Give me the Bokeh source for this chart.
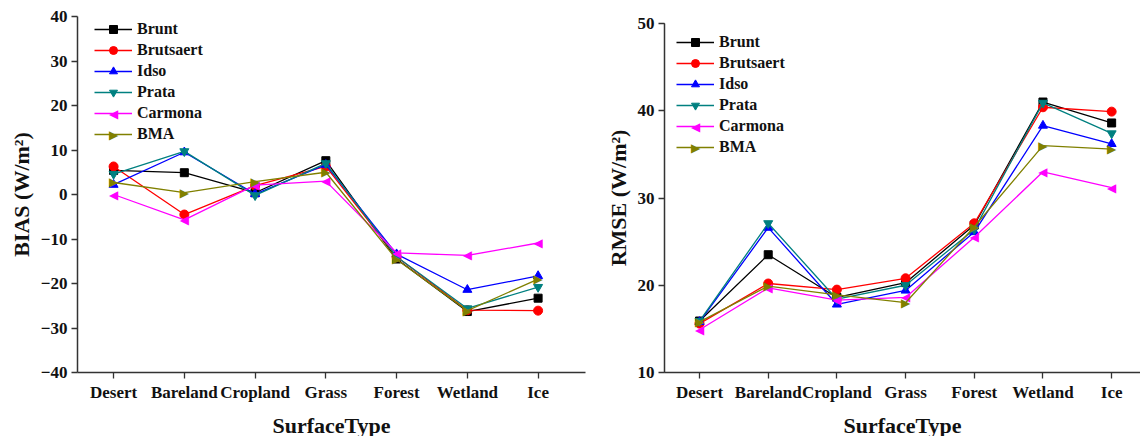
from bokeh.plotting import figure
from bokeh.layouts import row
from bokeh.models import (Range1d, FixedTicker, SingleIntervalTicker, Legend, LegendItem,
                          ColumnDataSource, Label)
from bokeh.core.properties import value
from bokeh.embed import file_html
from bokeh.resources import INLINE

categories = ["Desert", "Bareland", "Cropland", "Grass", "Forest", "Wetland", "Ice"]
series_names = ["Brunt", "Brutsaert", "Idso", "Prata", "Carmona", "BMA"]

bias_brunt = [5.4, 4.9, 0.4, 7.6, -14.5, -26.3, -23.3]
bias_brutsaert = [6.3, -4.5, 2.0, 6.3, -14.0, -26.0, -26.1]
bias_idso = [2.2, 9.5, 0.1, 6.7, -13.4, -21.4, -18.3]
bias_prata = [4.6, 9.7, -0.2, 7.0, -14.0, -25.6, -20.8]
bias_carmona = [0.0, -5.7, 2.1, 3.0, -13.1, -13.7, -10.9]
bias_bma = [2.7, 0.4, 2.9, 5.0, -14.6, -26.1, -19.0]

rmse_brunt = [15.9, 23.5, 18.6, 20.3, 26.9, 41.0, 38.6]
rmse_brutsaert = [15.6, 20.2, 19.5, 20.8, 27.1, 40.4, 39.9]
rmse_idso = [15.8, 26.6, 17.8, 19.4, 26.1, 38.3, 36.2]
rmse_prata = [15.9, 27.1, 18.4, 20.0, 26.4, 40.9, 37.4]
rmse_carmona = [14.9, 19.7, 18.3, 18.6, 25.5, 33.0, 31.2]
rmse_bma = [15.8, 19.9, 18.9, 18.0, 26.7, 36.0, 35.6]

bias_ticks = [-40, -30, -20, -10, 0, 10, 20, 30, 40]
rmse_ticks = [10, 20, 30, 40, 50]

colors = ["#000000", "#FF0000", "#0000FF", "#008080", "#FF00FF", "#808000"]
# None -> drawn as a text symbol (left / right pointing triangles)
markers = ["square", "circle", "triangle", "inverted_triangle", None, None]
symbols = [None, None, None, None, "◀", "▶"]
sizes = [8, 9, 9, 9, 9, 9]

FONT = "Liberation Serif"
SYM_FONT = "DejaVu Sans"
xs = list(range(len(categories)))

ROW_H = 20
ROW_GAP = 1
GLYPH_W = 38

_probe = figure()
CAN_UNALIGN = "frame_align" in _probe.properties()


def make_plot(data, ylabel, yr, minor, frame_w, frame_h, x_end, border_left, border_right,
              border_top, legend_xy):
    p = figure(frame_width=frame_w, frame_height=frame_h, output_backend="svg",
               toolbar_location=None,
               x_range=Range1d(-0.51, x_end), y_range=Range1d(yr[0], yr[1]),
               min_border_left=border_left, min_border_right=border_right,
               min_border_top=border_top, min_border_bottom=60)
    if CAN_UNALIGN:
        p.frame_align = False
    p.outline_line_color = None
    p.grid.visible = False
    p.background_fill_color = "white"
    p.border_fill_color = "white"

    n = len(series_names)
    leg_h = n * ROW_H + (n - 1) * ROW_GAP
    items = []
    for i, (vals, name, c, m, sym, s) in enumerate(
            zip(data, series_names, colors, markers, symbols, sizes)):
        src = ColumnDataSource(dict(x=xs, y=vals, t=[sym] * len(xs)))
        r1 = p.line("x", "y", source=src, line_color=c, line_width=1.3)
        if m is not None:
            r2 = p.scatter("x", "y", source=src, marker=m, size=s,
                           fill_color=c, line_color=c)
            items.append(LegendItem(label=name, renderers=[r1, r2]))
        else:
            p.text("x", "y", text="t", source=src, text_color=c,
                   text_font=value(SYM_FONT), text_font_size="12px",
                   text_align="center", text_baseline="middle")
            items.append(LegendItem(label=name, renderers=[r1]))
            row_center = legend_xy[1] + leg_h - ROW_H / 2 - i * (ROW_H + ROW_GAP)
            p.add_layout(Label(x=legend_xy[0] + GLYPH_W / 2, y=row_center,
                               x_units="screen", y_units="screen", text=sym,
                               text_color=c, text_font=SYM_FONT, text_font_size="12px",
                               text_align="center", text_baseline="middle"))

    leg = Legend(items=items, location=legend_xy, glyph_width=GLYPH_W, glyph_height=ROW_H,
                 label_height=ROW_H, spacing=ROW_GAP, padding=0, margin=0, label_standoff=5,
                 label_text_font=FONT, label_text_font_style="bold",
                 label_text_font_size="16px", label_text_color="#111111",
                 border_line_color=None, background_fill_alpha=0)
    p.add_layout(leg)

    xa = p.xaxis[0]
    xa.ticker = FixedTicker(ticks=xs)
    xa.major_label_overrides = {i: c for i, c in enumerate(categories)}
    xa.axis_label = "SurfaceType"

    ya = p.yaxis[0]
    ya.ticker = SingleIntervalTicker(interval=10, num_minor_ticks=minor)
    ya.axis_label = ylabel

    for ax in (xa, ya):
        ax.axis_line_color = "#333333"
        ax.axis_line_width = 1.5
        ax.major_tick_line_color = "#333333"
        ax.major_tick_line_width = 1.3
        ax.minor_tick_line_color = "#333333"
        ax.minor_tick_line_width = 1.2
        ax.major_tick_in = 0
        ax.major_tick_out = 6
        ax.minor_tick_in = 0
        ax.minor_tick_out = 3
        ax.major_label_text_font = FONT
        ax.major_label_text_font_style = "bold"
        ax.major_label_text_font_size = "17px"
        ax.major_label_text_color = "#111111"
        ax.axis_label_text_font = FONT
        ax.axis_label_text_font_style = "bold"
        ax.axis_label_text_font_size = "22px"
        ax.axis_label_text_color = "#111111"
    xa.major_label_standoff = 4
    xa.axis_label_standoff = 8
    ya.major_label_standoff = 4
    ya.axis_label_standoff = 4
    return p


p1 = make_plot([bias_brunt, bias_brutsaert, bias_idso, bias_prata, bias_carmona, bias_bma],
               "BIAS (W/m²)", (-40, 40), 0, 508, 356, 6.67, 77, 15, 16, (17, 228))
if CAN_UNALIGN:
    p2 = make_plot([rmse_brunt, rmse_brutsaert, rmse_idso, rmse_prata, rmse_carmona, rmse_bma],
                   "RMSE (W/m²)", (10, 50), 1, 476, 349, 6.42, 64, 0, 23, (12, 215))
else:
    p2 = make_plot([rmse_brunt, rmse_brutsaert, rmse_idso, rmse_prata, rmse_carmona, rmse_bma],
                   "RMSE (W/m²)", (10, 50 + 7 * 40 / 349), 1, 476, 356, 6.42, 64, 0, 16,
                   (12, 215))

layout = row(p1, p2)
open("out.html", "w").write(file_html(layout, INLINE))
